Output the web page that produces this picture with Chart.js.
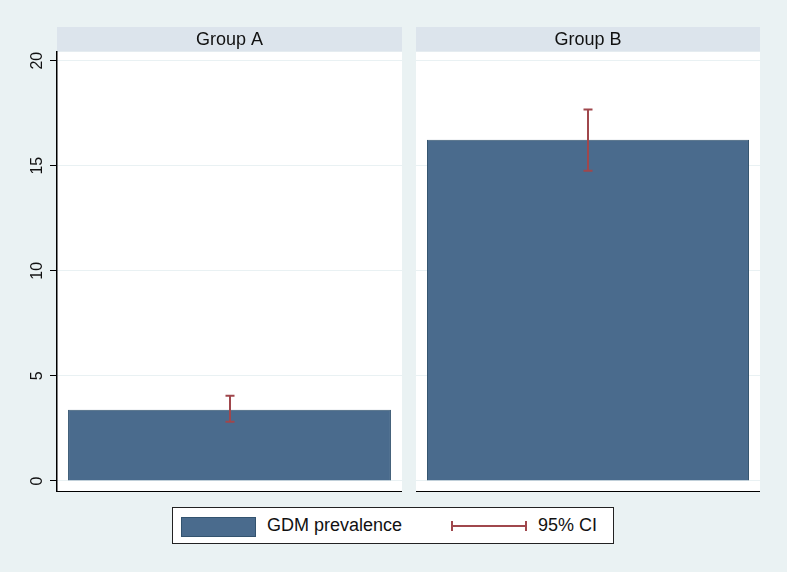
<!DOCTYPE html>
<html>
<head>
<meta charset="utf-8">
<script src="https://cdn.jsdelivr.net/npm/chart.js@4/dist/chart.umd.min.js"></script>
<style>
  html, body { margin:0; padding:0; background:#EAF2F3; }
  body { width:787px; height:572px; position:relative; overflow:hidden; font-family:"Liberation Sans", Arial, sans-serif; }
  .panel { position:absolute; }
  #legend { position:absolute; left:172px; top:507px; width:440px; height:35px; background:#fff; border:1px solid #222; }
  #legend .sw { position:absolute; left:8px; top:9px; width:73px; height:18px; background:#4A6B8D; border:1px solid #33536F; }
  #legend .t1 { position:absolute; left:94px; top:7px; font-size:18px; color:#111; }
  #legend .ci { position:absolute; left:278px; top:17px; width:76px; height:2px; background:#A0474C; }
  #legend .ci:before, #legend .ci:after { content:""; position:absolute; top:-4px; width:2px; height:10px; background:#A0474C; }
  #legend .ci:before { left:0; } #legend .ci:after { right:0; }
  #legend .t2 { position:absolute; left:365px; top:7px; font-size:18px; color:#111; }
</style>
</head>
<body>
<div class="panel" style="left:0;top:27px;width:402px;height:465px;"><canvas id="cA" width="402" height="465"></canvas></div>
<div class="panel" style="left:416px;top:27px;width:344px;height:465px;"><canvas id="cB" width="344" height="465"></canvas></div>
<div id="legend"><div class="sw"></div><div class="t1">GDM prevalence</div><div class="ci"></div><div class="t2">95% CI</div></div>
<script>
const groups = ['Group A', 'Group B'];
const prevalence = [3.39, 16.23];
const ciLow = [2.82, 14.76];
const ciHigh = [4.06, 17.68];
const yTicks = [0, 5, 10, 15, 20];
const seriesLabel = 'GDM prevalence';
const ciLabel = '95% CI';

const BAR = '#4A6B8D', BAR_BORDER = '#34546F', CI = '#A0474C', HEADER = '#DCE4EC', GRID = '#E9F1F3';

const panelPlugin = {
  id: 'panelBg',
  beforeDraw(chart) {
    const { ctx, chartArea } = chart;
    ctx.save();
    ctx.fillStyle = '#ffffff';
    ctx.fillRect(chartArea.left, chartArea.top, chartArea.right - chartArea.left, chartArea.bottom - chartArea.top);
    const tb = chart.titleBlock;
    ctx.fillStyle = HEADER;
    ctx.fillRect(chartArea.left, tb.top, chartArea.right - chartArea.left, chartArea.top - tb.top);
    ctx.restore();
  }
};

const errPlugin = {
  id: 'errBars',
  afterDatasetsDraw(chart, args, opts) {
    const { ctx } = chart;
    const y = chart.scales.y;
    const meta = chart.getDatasetMeta(0);
    ctx.save();
    ctx.strokeStyle = CI;
    ctx.lineWidth = 2;
    meta.data.forEach((el, i) => {
      const idx = opts.offset + i;
      const x = Math.round(el.x);
      const yl = y.getPixelForValue(ciLow[idx]);
      const yh = y.getPixelForValue(ciHigh[idx]);
      ctx.beginPath();
      ctx.moveTo(x, yl); ctx.lineTo(x, yh);
      ctx.moveTo(x - 4.5, yl); ctx.lineTo(x + 4.5, yl);
      ctx.moveTo(x - 4.5, yh); ctx.lineTo(x + 4.5, yh);
      ctx.stroke();
    });
    ctx.restore();
  }
};

function makeChart(id, i, showY) {
  return new Chart(document.getElementById(id), {
    type: 'bar',
    data: {
      labels: [groups[i]],
      datasets: [{
        label: seriesLabel,
        data: [prevalence[i]],
        backgroundColor: BAR,
        borderColor: BAR_BORDER,
        borderWidth: 1,
        barPercentage: 0.936,
        categoryPercentage: 1
      }]
    },
    options: {
      responsive: false,
      animation: false,
      layout: { padding: 0 },
      plugins: {
        legend: { display: false },
        tooltip: { enabled: false },
        title: {
          display: true, text: groups[i], fullSize: false,
          color: '#111', font: { family: 'Liberation Sans', size: 18, weight: 'normal' },
          padding: { top: 2, bottom: 1 }
        },
        errBars: { offset: i }
      },
      scales: {
        x: {
          ticks: { display: false },
          grid: { display: false },
          border: { display: true, color: '#000', width: 1.5 },
          afterFit(s) { s.height = 0; s.paddingLeft = 0; s.paddingRight = 0; }
        },
        y: {
          min: -0.525, max: 20.43,
          afterBuildTicks(s) { s.ticks = yTicks.map(v => ({ value: v })); },
          ticks: {
            display: showY, minRotation: 90, maxRotation: 90, crossAlign: 'center', padding: 4,
            color: '#111', font: { family: 'Liberation Sans', size: 16 }
          },
          grid: { color: GRID, lineWidth: 1, drawTicks: showY, tickLength: 7, tickColor: '#000', tickWidth: 1 },
          border: { display: showY, color: '#000', width: 1.5 },
          afterFit(s) { s.width = showY ? 57 : 0; s.paddingTop = 0; s.paddingBottom = 0; }
        }
      }
    },
    plugins: [panelPlugin, errPlugin]
  });
}
makeChart('cA', 0, true);
makeChart('cB', 1, false);
</script>
</body>
</html>
